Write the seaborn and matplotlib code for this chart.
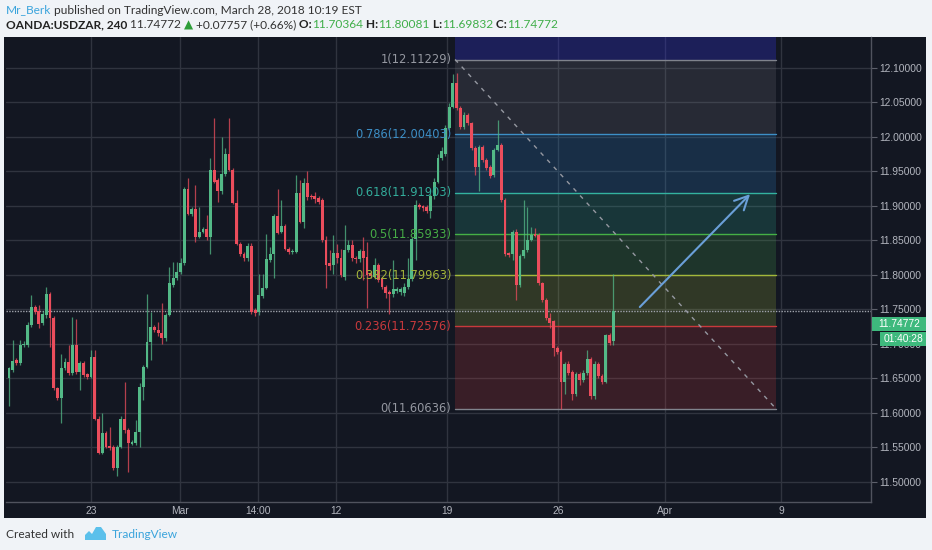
import numpy as np
import pandas as pd
import matplotlib as mpl
import matplotlib.pyplot as plt
from matplotlib.patches import Rectangle, Polygon
import seaborn as sns

sns.set_style('dark')
mpl.rcParams['font.family'] = ['Liberation Sans', 'DejaVu Sans']

#%% data: USDZAR 4h candles

opens = [11.650, 11.662, 11.677, 11.673, 11.698, 11.699, 11.727, 11.753, 11.748, 11.730,
         11.742, 11.773, 11.737, 11.636, 11.621, 11.665, 11.674, 11.658, 11.699, 11.660,
         11.672, 11.656, 11.652, 11.681, 11.591, 11.542, 11.571, 11.552, 11.551, 11.520,
         11.551, 11.591, 11.575, 11.555, 11.556, 11.573, 11.637, 11.666, 11.703, 11.725,
         11.720, 11.716, 11.708, 11.742, 11.785, 11.795, 11.804, 11.817, 11.924, 11.889,
         11.895, 11.855, 11.863, 11.866, 11.855, 11.952, 11.937, 11.922, 11.946, 11.976,
         11.952, 11.905, 11.845, 11.831, 11.824, 11.842, 11.749, 11.747, 11.770, 11.781,
         11.822, 11.830, 11.886, 11.863, 11.871, 11.837, 11.833, 11.834, 11.919, 11.877,
         11.934, 11.915, 11.914, 11.912, 11.909, 11.851, 11.817, 11.815, 11.832, 11.825,
         11.797, 11.836, 11.843, 11.825, 11.823, 11.835, 11.826, 11.802, 11.797, 11.815,
         11.795, 11.783, 11.776, 11.772, 11.777, 11.775, 11.774, 11.782, 11.794, 11.852,
         11.901, 11.900, 11.899, 11.893, 11.914, 11.935, 11.969, 11.976, 12.013, 12.044,
         12.078, 12.042, 12.015, 12.032, 12.020, 11.984, 11.956, 11.985, 11.967, 11.957,
         11.945, 11.981, 11.988, 11.909, 11.832, 11.831, 11.863, 11.785, 11.827, 11.836,
         11.851, 11.860, 11.858, 11.788, 11.764, 11.737, 11.733, 11.694, 11.689, 11.645,
         11.671, 11.660, 11.628, 11.657, 11.648, 11.658, 11.678, 11.624, 11.671, 11.653,
         11.645, 11.713, 11.70364]
highs = [11.666, 11.706, 11.680, 11.706, 11.705, 11.732, 11.771, 11.757, 11.757, 11.748,
         11.783, 11.776, 11.740, 11.638, 11.686, 11.680, 11.699, 11.739, 11.736, 11.675,
         11.676, 11.658, 11.691, 11.692, 11.595, 11.600, 11.574, 11.580, 11.553, 11.553,
         11.595, 11.645, 11.578, 11.561, 11.590, 11.643, 11.670, 11.773, 11.747, 11.728,
         11.732, 11.760, 11.745, 11.812, 11.819, 11.819, 11.824, 11.927, 11.940, 11.898,
         11.930, 11.899, 11.870, 11.887, 11.969, 12.027, 11.940, 12.000, 11.984, 12.027,
         11.955, 11.923, 11.848, 11.833, 11.846, 11.846, 11.752, 11.802, 11.802, 11.860,
         11.841, 11.889, 11.924, 11.909, 11.874, 11.840, 11.838, 11.945, 11.938, 11.940,
         11.950, 11.917, 11.920, 11.915, 11.912, 11.856, 11.836, 11.858, 11.845, 11.838,
         11.872, 11.850, 11.851, 11.828, 11.837, 11.855, 11.848, 11.806, 11.824, 11.818,
         11.797, 11.786, 11.778, 11.822, 11.782, 11.783, 11.788, 11.824, 11.855, 11.909,
         11.904, 11.902, 11.901, 11.918, 11.940, 11.976, 11.985, 12.017, 12.049, 12.092,
         12.093, 12.045, 12.036, 12.035, 12.022, 11.987, 11.988, 11.988, 11.969, 11.960,
         11.984, 12.025, 11.991, 11.912, 11.834, 11.865, 11.866, 11.830, 11.909, 11.899,
         11.870, 11.868, 11.861, 11.790, 11.766, 11.745, 11.735, 11.697, 11.692, 11.674,
         11.675, 11.663, 11.660, 11.660, 11.662, 11.691, 11.681, 11.675, 11.674, 11.656,
         11.715, 11.716, 11.80081]
lows = [11.610, 11.660, 11.670, 11.670, 11.696, 11.696, 11.725, 11.744, 11.723, 11.727,
        11.737, 11.696, 11.633, 11.619, 11.585, 11.662, 11.655, 11.655, 11.657, 11.633,
        11.652, 11.649, 11.650, 11.590, 11.541, 11.540, 11.549, 11.547, 11.518, 11.508,
        11.549, 11.571, 11.515, 11.553, 11.554, 11.551, 11.619, 11.665, 11.677, 11.717,
        11.711, 11.700, 11.705, 11.740, 11.783, 11.793, 11.802, 11.815, 11.887, 11.886,
        11.848, 11.853, 11.861, 11.851, 11.831, 11.933, 11.906, 11.918, 11.944, 11.950,
        11.903, 11.843, 11.828, 11.820, 11.820, 11.744, 11.740, 11.742, 11.766, 11.779,
        11.819, 11.795, 11.860, 11.861, 11.836, 11.830, 11.830, 11.832, 11.875, 11.868,
        11.909, 11.910, 11.905, 11.903, 11.848, 11.781, 11.807, 11.802, 11.818, 11.797,
        11.793, 11.833, 11.820, 11.818, 11.819, 11.793, 11.752, 11.796, 11.794, 11.790,
        11.780, 11.766, 11.744, 11.768, 11.774, 11.771, 11.769, 11.780, 11.792, 11.822,
        11.896, 11.893, 11.890, 11.882, 11.910, 11.933, 11.966, 11.972, 12.010, 12.042,
        12.039, 12.012, 12.012, 12.017, 11.981, 11.945, 11.921, 11.964, 11.952, 11.940,
        11.942, 11.979, 11.906, 11.828, 11.826, 11.822, 11.764, 11.782, 11.824, 11.834,
        11.849, 11.855, 11.785, 11.761, 11.735, 11.723, 11.682, 11.686, 11.60636, 11.628,
        11.655, 11.619, 11.625, 11.640, 11.645, 11.655, 11.620, 11.620, 11.650, 11.642,
        11.643, 11.699, 11.69832]
closes = [11.665, 11.676, 11.673, 11.699, 11.700, 11.727, 11.753, 11.747, 11.729, 11.744,
          11.773, 11.737, 11.636, 11.621, 11.665, 11.674, 11.658, 11.699, 11.660, 11.672,
          11.655, 11.652, 11.681, 11.591, 11.542, 11.571, 11.551, 11.549, 11.520, 11.551,
          11.591, 11.575, 11.556, 11.558, 11.573, 11.638, 11.666, 11.703, 11.725, 11.720,
          11.716, 11.708, 11.742, 11.788, 11.795, 11.805, 11.817, 11.924, 11.889, 11.895,
          11.855, 11.863, 11.866, 11.855, 11.952, 11.935, 11.922, 11.946, 11.976, 11.952,
          11.905, 11.845, 11.830, 11.824, 11.842, 11.747, 11.745, 11.771, 11.781, 11.823,
          11.830, 11.886, 11.861, 11.871, 11.837, 11.833, 11.835, 11.919, 11.877, 11.934,
          11.913, 11.913, 11.910, 11.906, 11.851, 11.815, 11.813, 11.832, 11.825, 11.800,
          11.836, 11.843, 11.824, 11.823, 11.835, 11.824, 11.800, 11.798, 11.815, 11.793,
          11.783, 11.774, 11.772, 11.779, 11.779, 11.779, 11.783, 11.794, 11.852, 11.901,
          11.899, 11.897, 11.893, 11.914, 11.935, 11.969, 11.979, 12.013, 12.044, 12.078,
          12.042, 12.015, 12.032, 12.020, 11.984, 11.956, 11.985, 11.967, 11.955, 11.943,
          11.981, 11.988, 11.909, 11.831, 11.829, 11.863, 11.785, 11.827, 11.836, 11.851,
          11.858, 11.857, 11.788, 11.764, 11.737, 11.730, 11.694, 11.689, 11.645, 11.671,
          11.658, 11.628, 11.657, 11.648, 11.658, 11.678, 11.624, 11.671, 11.653, 11.645,
          11.713, 11.702, 11.74772]

# time axis labels, placed at candle-index positions
tick_labels = ['23', 'Mar', '14:00', '12', '19', '26', 'Apr', '9']
tick_pos = [22.0, 45.8, 66.8, 87.7, 117.4, 147.2, 175.9, 207.0]

# fibonacci retracement (anchored at candle index positions)
fib_ratios = ['1', '0.786', '0.618', '0.5', '0.382', '0.236', '0']
fib_prices = [12.11229, 12.00403, 11.91903, 11.85933, 11.79963, 11.72576, 11.60636]
fib_ext = 12.42496   # 1.618 level, only its band shows
fib_start, fib_end = 119.6, 205.6

arrow_from = (168.6, 11.7507)
arrow_to = (199.2, 11.920)

last_price = 11.74772
countdown = '01:40:28'

df = pd.DataFrame({'open': opens, 'high': highs, 'low': lows, 'close': closes})
df['idx'] = np.arange(len(df))
df['up'] = df.close >= df.open

#%% figure

W, H = 932, 550
BG = '#131722'
GREEN, RED = '#53b987', '#eb4d5c'
AXTXT = '#b2b5be'


def fx(x):
    return x / W


def fy(y):
    return 1 - y / H


fig = plt.figure(figsize=(W / 100, H / 100), dpi=100, facecolor='#f0f3f7')
fig.patches.append(Rectangle((fx(4), fy(518)), (926 - 4) / W, (518 - 37) / H,
                             transform=fig.transFigure, facecolor=BG, edgecolor='none', zorder=-5))

ax = fig.add_axes([fx(6), fy(502), (871 - 6) / W, (502 - 37) / H])
ax.set_facecolor(BG)

# fib zones
zone_cols = ['#3030d0', '#787b86', '#2f8fd8', '#2fb39a', '#4caf50', '#a5bd3a', '#d23c3c']
zone_alpha = [0.32, 0.2, 0.2, 0.2, 0.2, 0.2, 0.2]
bounds = [fib_ext] + fib_prices
for k in range(len(zone_cols)):
    ax.fill_between([fib_start, fib_end], bounds[k + 1], bounds[k], color=zone_cols[k],
                    alpha=zone_alpha[k], lw=0, zorder=1)

line_cols = ['#80838c', '#3d8fc6', '#33b3a0', '#45b045', '#a3b83a', '#c8393c', '#80838c']
label_cols = ['#9598a1', '#3d8fc6', '#33ad9b', '#46ac46', '#a3b33a', '#c8393c', '#9598a1']
for ratio, price, lc, tc in zip(fib_ratios, fib_prices, line_cols, label_cols):
    ax.plot([fib_start, fib_end], [price, price], color=lc, lw=1, zorder=2)
    ax.text(fib_start - 1.0, price, '{}({:.5f})'.format(ratio, price), color=tc, ha='right',
            va='center', fontsize=8.3, family='DejaVu Sans', zorder=6)

# trend line of the fib
sns.lineplot(x=[fib_start, fib_end], y=[fib_prices[0], fib_prices[-1]], color='#9598a1',
             lw=1, linestyle=(0, (3, 4)), ax=ax, zorder=3)

# last price line
ax.axhline(last_price, color='#9ea2ab', lw=1, ls=(0, (1, 1)), zorder=2)

# candles
cols = np.where(df.up, GREEN, RED)
ax.vlines(df.idx, df.low, df.high, colors=cols, lw=0.9, alpha=0.75, zorder=4)
body_lo = np.minimum(df.open, df.close)
body_h = np.maximum(np.abs(df.close - df.open), 0.0015)
ax.bar(df.idx, body_h, bottom=body_lo, width=0.76, color=cols, lw=0, zorder=5)

# projection arrow
ax.annotate('', xy=arrow_to, xytext=arrow_from,
            arrowprops=dict(arrowstyle='->,head_length=0.7,head_width=0.35', color='#6a9fd8',
                            lw=1.5, mutation_scale=14), zorder=6)

ax.set_xlim(-0.8, 231.1)
ax.set_ylim(11.4710, 12.1449)
ax.set_yticks(np.arange(11.50, 12.1001, 0.05))
ax.set_yticklabels(['{:.5f}'.format(v) for v in np.arange(11.50, 12.1001, 0.05)])
ax.yaxis.tick_right()
ax.set_xticks(tick_pos, tick_labels)

ax.grid(True, color='#30343f', lw=1)
ax.tick_params(axis='y', right=True, left=False, length=4, width=0.8, color='#5d606b',
               labelcolor=AXTXT, labelsize=7.4, pad=2)
ax.tick_params(axis='x', bottom=False, length=0, labelcolor=AXTXT, labelsize=7.4, pad=3)
for side in ['top', 'left']:
    ax.spines[side].set_visible(False)
for side in ['right', 'bottom']:
    ax.spines[side].set_visible(True)
    ax.spines[side].set_color('#50535e')
    ax.spines[side].set_linewidth(1)

# price tags on the axis (they cover part of the 11.70000 label, as on the original)
fig.patches.append(Rectangle((fx(872), fy(331)), 54 / W, 14 / H, transform=fig.transFigure,
                             facecolor='#3eb97d', edgecolor='none', zorder=5))
fig.text(fx(899), fy(324), '{:.5f}'.format(last_price), color='white', fontsize=7.4,
         ha='center', va='center', zorder=6)
fig.patches.append(Rectangle((fx(880), fy(346)), 46 / W, 14 / H, transform=fig.transFigure,
                             facecolor='#3eb97d', edgecolor='none', zorder=5))
fig.text(fx(903), fy(339), countdown, color='white', fontsize=7.4, ha='center', va='center',
         zorder=6)

#%% header & footer text

renderer = fig.canvas.get_renderer()


def write_row(parts, x, y, size):
    for text, color, weight in parts:
        t = fig.text(fx(x), fy(y), text, color=color, fontweight=weight, fontsize=size,
                     family=['Lato', 'DejaVu Sans'], ha='left', va='center')
        x += t.get_window_extent(renderer=renderer).width


DARK = '#333333'
VAL = '#3fae49'
write_row([('Mr_Berk', '#3ba4dc', 'normal'),
           (' published on TradingView.com, March 28, 2018 10:19 EST', DARK, 'normal')],
          6, 10, 8.6)
write_row([('OANDA:USDZAR, 240', '#222222', 'bold'),
           (' {:.5f}'.format(last_price), DARK, 'normal'),
           (' ▲', '#2e9e3a', 'normal'),
           (' +0.07757 (+0.66%)', DARK, 'normal'),
           (' O:', '#222222', 'bold'), ('11.70364', VAL, 'normal'),
           (' H:', '#222222', 'bold'), ('11.80081', VAL, 'normal'),
           (' L:', '#222222', 'bold'), ('11.69832', VAL, 'normal'),
           (' C:', '#222222', 'bold'), ('{:.5f}'.format(last_price), VAL, 'normal')],
          6, 25, 8.6)

fig.text(fx(6), fy(534), 'Created with', color=DARK, fontsize=8.6, family='Lato',
         ha='left', va='center')
logo = [(85, 540), (85, 535), (89, 531), (92, 534), (96, 527), (101, 527), (106, 534),
        (106, 540)]
fig.patches.append(Polygon([(fx(a), fy(b)) for a, b in logo], closed=True,
                           transform=fig.transFigure, facecolor='#5bc0eb', edgecolor='none'))
fig.text(fx(112), fy(534), 'TradingView', color='#3ba4dc', fontsize=8.6, family='Lato',
         ha='left', va='center')

fig.savefig('out.png', dpi=100, facecolor=fig.get_facecolor())
